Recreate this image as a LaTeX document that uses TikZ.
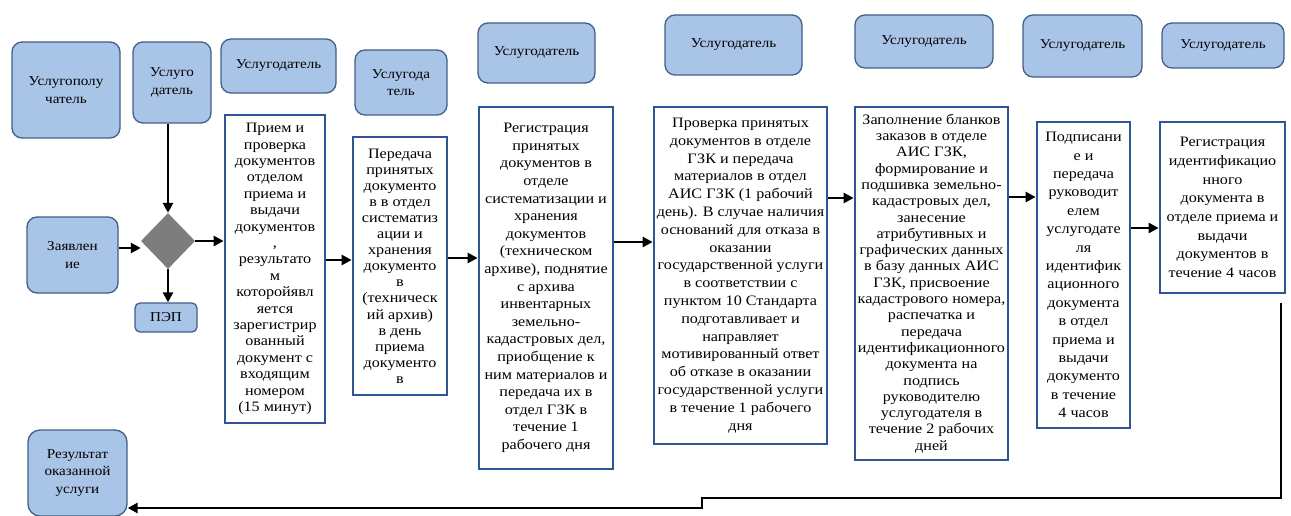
\documentclass[tikz,border=0pt]{standalone}
\usepackage{fontspec}
\setmainfont[FakeStretch=1.12]{Liberation Serif}
\usetikzlibrary{shapes.geometric,arrows.meta}
\definecolor{hdrfill}{RGB}{168,196,230}
\definecolor{hdrdraw}{RGB}{65,95,135}
\definecolor{procdraw}{RGB}{47,85,151}
\definecolor{diafill}{RGB}{125,125,125}
\begin{document}
\begin{tikzpicture}[x=1pt,y=-1pt,
  hdr/.style={draw=hdrdraw, line width=1.3pt, fill=hdrfill, rounded corners=10pt,
    align=center, inner sep=0pt, font=\fontsize{13.5}{17.5}\selectfont},
  proc/.style={draw=procdraw, line width=2.7pt, fill=white, align=center, inner sep=0pt},
  ls/.style={font=\fontsize{14.4}{#1}\selectfont},
  arr/.style={line width=2.8pt, -{Triangle[length=10pt,width=10pt]}}]
\useasboundingbox (0,0) rectangle (1291,516);
% header boxes
\node[hdr, minimum width=108pt, minimum height=96pt] (hU) at (66,90) {Услугополу\\чатель};
\node[hdr, minimum width=78pt, minimum height=81pt] (hD1) at (172,82.5) {Услуго\\датель};
\node[hdr, minimum width=115pt, minimum height=54pt] (hD2) at (278.5,66) {Услугодатель};
\node[hdr, minimum width=92pt, minimum height=65pt] (hD3) at (401,82.5) {Услугода\\тель};
\node[hdr, minimum width=117pt, minimum height=60pt] (hD4) at (536.5,53) {Услугодатель};
\node[hdr, minimum width=137pt, minimum height=60pt] (hD5) at (733.5,45) {Услугодатель};
\node[hdr, minimum width=138pt, minimum height=53pt] (hD6) at (924,41.5) {Услугодатель};
\node[hdr, minimum width=119pt, minimum height=62pt] (hD7) at (1082.5,46) {Услугодатель};
\node[hdr, minimum width=122pt, minimum height=45pt] (hD8) at (1223,45.5) {Услугодатель};
% start elements
\node[hdr, minimum width=91pt, minimum height=76pt] (zay) at (72.5,255) {Заявлен\\ие};
\node[diamond, fill=diafill, inner sep=0pt, minimum width=54pt, minimum height=56pt] (dia) at (168,241) {};
\node[hdr, rounded corners=5pt, minimum width=62pt, minimum height=29pt] (pep) at (166,317.5) {ПЭП};
\node[hdr, rounded corners=12pt, minimum width=99pt, minimum height=86pt] (res) at (77.5,473) {Результат\\оказанной\\услуги};
% process boxes
\node[proc, ls=16.4, minimum width=100pt, minimum height=308pt] (A) at (275,269)
 {Прием и\\проверка\\документов\\отделом\\приема и\\выдачи\\документов\\,\\результато\\м\\которойявл\\яется\\зарегистрир\\ованный\\документ с\\входящим\\номером\\(15 минут)};
\node[proc, ls=16.1, minimum width=94pt, minimum height=258pt] (B) at (400,266)
 {Передача\\принятых\\документо\\в в отдел\\систематиз\\ации и\\хранения\\документо\\в\\(техническ\\ий архив)\\в день\\приема\\документо\\в};
\node[proc, ls=17.6, minimum width=134pt, minimum height=362pt] (C) at (546,288)
 {Регистрация\\принятых\\документов в\\отделе\\систематизации и\\хранения\\документов\\(техническом\\архиве), поднятие\\с архива\\инвентарных\\земельно-\\кадастровых дел,\\приобщение к\\ним материалов и\\передача их в\\отдел ГЗК в\\течение 1\\рабочего дня};
\node[proc, ls=17.8, minimum width=173pt, minimum height=337pt] (D) at (740.5,275.5)
 {Проверка принятых\\документов в отделе\\ГЗК и передача\\материалов в отдел\\АИС ГЗК (1 рабочий\\день). В случае наличия\\оснований для отказа в\\оказании\\государственной услуги\\в соответствии с\\пунктом 10 Стандарта\\подготавливает и\\направляет\\мотивированный ответ\\об отказе в оказании\\государственной услуги\\в течение 1 рабочего\\дня};
\node[proc, ls=16.3, minimum width=153pt, minimum height=353pt] (E) at (931.5,283.5)
 {Заполнение бланков\\заказов в отделе\\АИС ГЗК,\\формирование и\\подшивка земельно-\\кадастровых дел,\\занесение\\атрибутивных и\\графических данных\\в базу данных АИС\\ГЗК, присвоение\\кадастрового номера,\\распечатка и\\передача\\идентификационного\\документа на\\подпись\\руководителю\\услугодателя в\\течение 2 рабочих\\дней};
\node[proc, ls=18.4, minimum width=93pt, minimum height=306pt] (F) at (1083.5,275)
 {Подписани\\е и\\передача\\руководит\\елем\\услугодате\\ля\\идентифик\\ационного\\документа\\в отдел\\приема и\\выдачи\\документо\\в течение\\4 часов};
\node[proc, ls=18.7, minimum width=125pt, minimum height=171pt] (G) at (1222.5,207.5)
 {Регистрация\\идентификацио\\нного\\документа в\\отделе приема и\\выдачи\\документов в\\течение 4 часов};
% connectors
\draw[arr] (hD1.south -| dia.north) -- (dia.north);
\draw[arr] ([yshift=-7pt]zay.east |- dia.west) -- ([yshift=-7pt]dia.west);
\draw[arr] (dia.south) -- (dia.south |- pep.north);
\draw[arr] (dia.east) -- (dia.east -| A.west);
\draw[arr] ([yshift=9pt]A.east) -- ([yshift=9pt]A.east -| B.west);
\draw[arr] ([yshift=8pt]B.east) -- ([yshift=8pt]B.east -| C.west);
\draw[arr] ([yshift=46pt]C.east) -- ([yshift=46pt]C.east -| D.west);
\draw[arr] ([yshift=77.5pt]D.east) -- ([yshift=77.5pt]D.east -| E.west);
\draw[arr] ([yshift=86.5pt]E.east) -- ([yshift=86.5pt]E.east -| F.west);
\draw[arr] ([yshift=47pt]F.east) -- ([yshift=47pt]F.east -| G.west);
\coordinate (r1) at (1281,303);
\coordinate (r2) at (702,498);
\coordinate (r3) at (702,508);
\draw[arr] (r1) |- (r2) -- (r3) -- (r3 -| res.east);
\end{tikzpicture}
\end{document}
